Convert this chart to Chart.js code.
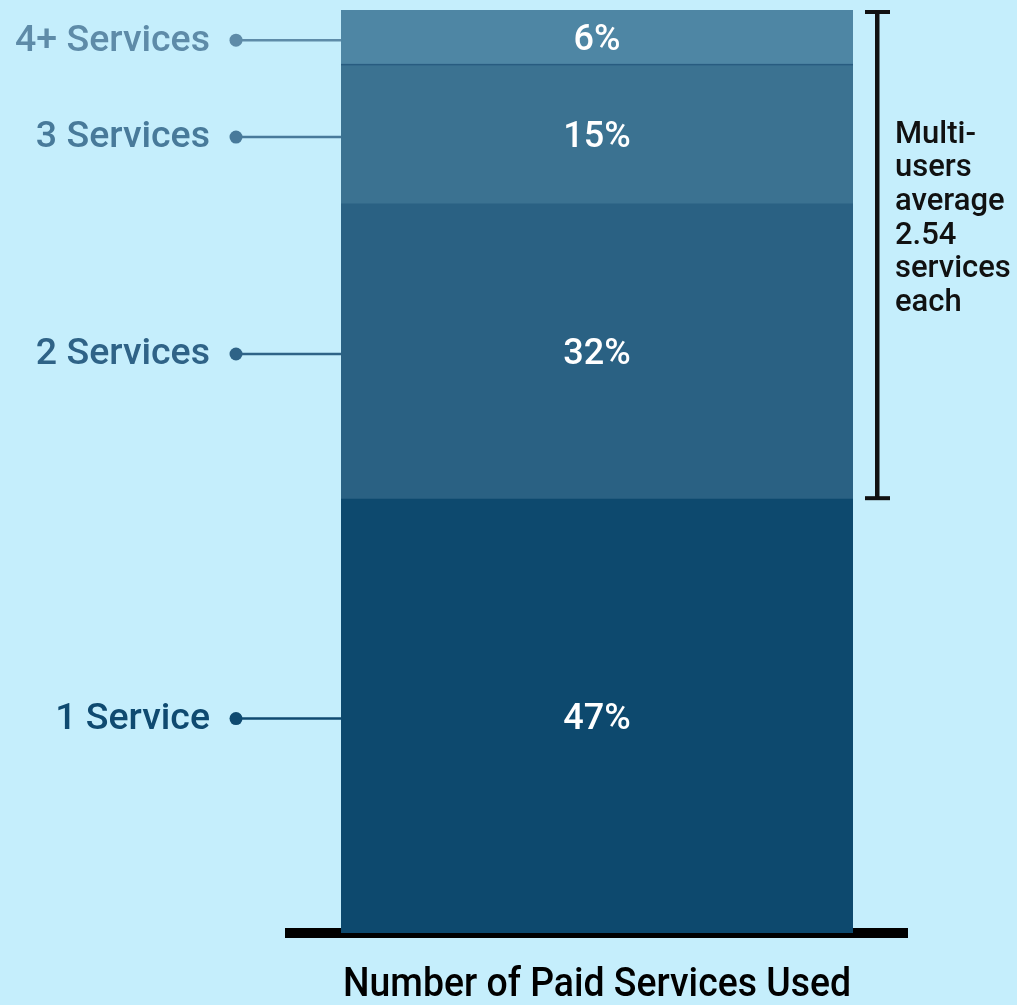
<!DOCTYPE html>
<html>
<head>
<meta charset="utf-8">
<script src="https://cdn.jsdelivr.net/npm/chart.js@4/dist/chart.umd.min.js"></script>
<style>
  html, body { margin: 0; padding: 0; background: #c5eefc; }
  #wrap { width: 1017px; height: 1005px; }
</style>
</head>
<body>
<div id="wrap"><canvas id="c" width="1017" height="1005"></canvas></div>
<script>
// Share of users by number of paid services (stacked, bottom to top)
const categories = ['Number of Paid Services Used'];
const seriesNames = ['1 Service', '2 Services', '3 Services', '4+ Services'];
const shares = [47, 32, 15, 6];
const shareLabels = ['47%', '32%', '15%', '6%'];
const noteLines = ['Multi-', 'users', 'average', '2.54', 'services', 'each'];

const barColors = ['#0d496e', '#2a6183', '#3b7291', '#4e86a4'];
const labelColors = ['#0f4a70', '#2f6387', '#487a9a', '#5e8ba8'];
const FONT = 'Roboto, "Noto Sans", sans-serif';

const decorations = {
  id: 'decorations',
  beforeDatasetsDraw(chart) {
    const { ctx, chartArea } = chart;
    const y0 = chart.scales.y.getPixelForValue(0);
    ctx.save();
    ctx.fillStyle = '#000';
    ctx.fillRect(chartArea.left - 56, y0 - 5, chartArea.right - chartArea.left + 111, 10);
    ctx.restore();
  },
  afterDatasetsDraw(chart) {
    const { ctx, chartArea } = chart;
    const bars = chart.data.datasets.map((d, i) => chart.getDatasetMeta(i).data[0]);
    ctx.save();

    // thin divider between the two top segments
    const div = bars[3];
    ctx.fillStyle = '#285c80';
    ctx.fillRect(div.x - div.width / 2, div.base - 1.5, div.width, 1.5);

    bars.forEach((bar, i) => {
      const top = Math.min(bar.y, bar.base);
      const bottom = Math.max(bar.y, bar.base);
      const cy = (top + bottom) / 2 + 3.5;
      const left = bar.x - bar.width / 2;

      // value inside the segment
      ctx.fillStyle = '#ffffff';
      ctx.font = '500 36px ' + FONT;
      ctx.textAlign = 'center';
      ctx.textBaseline = 'middle';
      ctx.fillText(shareLabels[i], bar.x, cy);

      // leader line, dot and category label on the left
      ctx.strokeStyle = labelColors[i];
      ctx.fillStyle = labelColors[i];
      ctx.lineWidth = 2.5;
      ctx.beginPath();
      ctx.moveTo(left - 106, cy - 1);
      ctx.lineTo(left, cy - 1);
      ctx.stroke();
      ctx.beginPath();
      ctx.arc(left - 105, cy - 1, 6.5, 0, Math.PI * 2);
      ctx.fill();
      ctx.font = '500 37.5px ' + FONT;
      ctx.textAlign = 'right';
      ctx.fillText(seriesNames[i], left - 131, cy);
    });

    // bracket over the multi-service segments
    const bTop = Math.min(bars[3].y, bars[3].base);
    const bBot = Math.min(bars[0].y, bars[0].base);
    const bx = chartArea.right + 24;
    ctx.fillStyle = '#111';
    ctx.fillRect(bx - 2, bTop, 4.5, bBot - bTop);
    ctx.fillRect(bx - 12, bTop, 25, 4);
    ctx.fillRect(bx - 12, bBot - 3, 25, 4);

    ctx.font = '500 31px ' + FONT;
    ctx.textAlign = 'left';
    ctx.textBaseline = 'middle';
    ctx.fillStyle = '#111';
    noteLines.forEach((t, k) => ctx.fillText(t, bx + 18, 135 + k * 33.6));

    // axis caption, set slightly condensed
    ctx.font = '500 40px ' + FONT;
    ctx.textAlign = 'center';
    ctx.fillStyle = '#000';
    const cx = (chartArea.left + chartArea.right) / 2;
    const w = ctx.measureText(categories[0]).width;
    const sx = Math.min(1, 508 / w);
    ctx.translate(cx, 986);
    ctx.scale(sx, 1);
    ctx.fillText(categories[0], 0, 0);
    ctx.restore();
  }
};

new Chart(document.getElementById('c'), {
  type: 'bar',
  data: {
    labels: categories,
    datasets: seriesNames.map((name, i) => ({
      label: name,
      data: [shares[i]],
      backgroundColor: barColors[i],
      borderWidth: 0,
      barPercentage: 1,
      categoryPercentage: 1
    }))
  },
  options: {
    responsive: false,
    animation: false,
    devicePixelRatio: 1,
    layout: { padding: { left: 341, right: 164, top: 10, bottom: 72 } },
    plugins: { legend: { display: false }, tooltip: { enabled: false }, title: { display: false } },
    scales: {
      x: { stacked: true, display: false },
      y: { stacked: true, display: false, min: 0, max: 100 }
    }
  },
  plugins: [decorations]
});
</script>
</body>
</html>
